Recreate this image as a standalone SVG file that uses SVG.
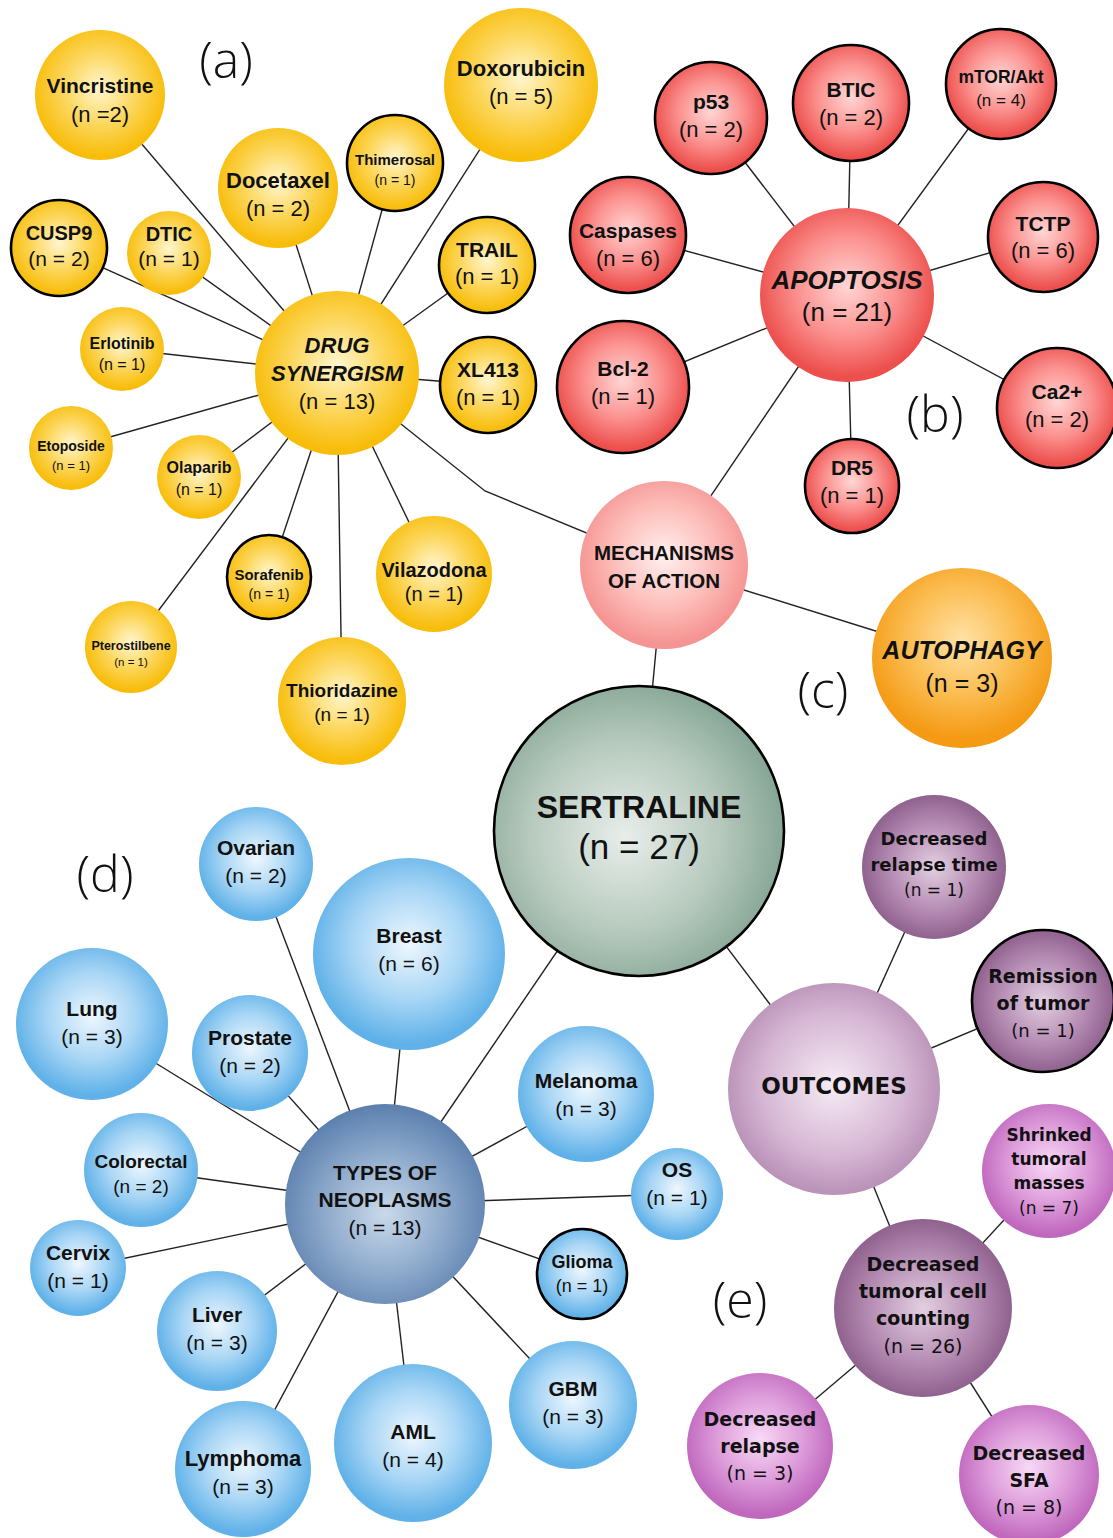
<svg xmlns="http://www.w3.org/2000/svg" width="1113" height="1538" viewBox="0 0 1113 1538">
<style>
.bg{fill:#fff}
.ln{stroke:#222;stroke-width:1.4;fill:none}
.bd{stroke:#000;stroke-width:2.6}
text{font-family:"Liberation Sans",Arial,sans-serif;text-anchor:middle;fill:#111}
.b{font-weight:bold}
.i{font-style:italic;font-weight:bold}
.p{font-family:"DejaVu Sans",Verdana,sans-serif}
.lab{font-family:"Open Sans","Liberation Sans",sans-serif;font-weight:300;font-size:50px;fill:#111}
</style>
<defs>
<radialGradient id="gY" cx="50%" cy="45%" r="52%"><stop offset="0" stop-color="#fff6cf"/><stop offset="0.55" stop-color="#fcd65a"/><stop offset="1" stop-color="#f8bd0a"/></radialGradient>
<radialGradient id="gR" cx="50%" cy="45%" r="52%"><stop offset="0" stop-color="#ffd6d4"/><stop offset="0.55" stop-color="#fb9290"/><stop offset="1" stop-color="#ec4f4c"/></radialGradient>
<radialGradient id="gRl" cx="50%" cy="45%" r="52%"><stop offset="0" stop-color="#fff0ef"/><stop offset="0.6" stop-color="#fcbcb8"/><stop offset="1" stop-color="#f59492"/></radialGradient>
<radialGradient id="gO" cx="50%" cy="40%" r="55%"><stop offset="0" stop-color="#ffe2a6"/><stop offset="0.55" stop-color="#fbbd52"/><stop offset="1" stop-color="#f49a14"/></radialGradient>
<radialGradient id="gS" cx="45%" cy="52%" r="55%"><stop offset="0" stop-color="#e8eeea"/><stop offset="0.6" stop-color="#b6c9bd"/><stop offset="1" stop-color="#86a696"/></radialGradient>
<radialGradient id="gB" cx="50%" cy="45%" r="52%"><stop offset="0" stop-color="#eef7fe"/><stop offset="0.55" stop-color="#a9d6f5"/><stop offset="1" stop-color="#5fb1e8"/></radialGradient>
<radialGradient id="gBd" cx="50%" cy="55%" r="55%"><stop offset="0" stop-color="#c9d9ea"/><stop offset="0.55" stop-color="#8eaacb"/><stop offset="1" stop-color="#5b7fae"/></radialGradient>
<radialGradient id="gP" cx="50%" cy="50%" r="52%"><stop offset="0" stop-color="#e2cfe1"/><stop offset="0.55" stop-color="#b890b6"/><stop offset="1" stop-color="#8c5d8b"/></radialGradient>
<radialGradient id="gPl" cx="50%" cy="48%" r="55%"><stop offset="0" stop-color="#f6ecf5"/><stop offset="0.6" stop-color="#d6b8d4"/><stop offset="1" stop-color="#b58ab3"/></radialGradient>
<radialGradient id="gM" cx="50%" cy="45%" r="52%"><stop offset="0" stop-color="#f8d9f6"/><stop offset="0.55" stop-color="#de9edb"/><stop offset="1" stop-color="#c068be"/></radialGradient>
</defs>
<rect class="bg" x="0" y="0" width="1113" height="1538"/>

<g id="connectors">
<line class="ln" x1="337" y1="373" x2="100" y2="95"/>
<line class="ln" x1="337" y1="373" x2="521" y2="85"/>
<line class="ln" x1="337" y1="373" x2="278" y2="188"/>
<line class="ln" x1="337" y1="373" x2="395" y2="163"/>
<line class="ln" x1="337" y1="373" x2="59" y2="248"/>
<line class="ln" x1="337" y1="373" x2="169" y2="253"/>
<line class="ln" x1="337" y1="373" x2="487" y2="265"/>
<line class="ln" x1="337" y1="373" x2="122" y2="349"/>
<line class="ln" x1="337" y1="373" x2="488" y2="385"/>
<line class="ln" x1="337" y1="373" x2="71" y2="448"/>
<line class="ln" x1="337" y1="373" x2="199" y2="477"/>
<line class="ln" x1="337" y1="373" x2="269" y2="577"/>
<line class="ln" x1="337" y1="373" x2="434" y2="574"/>
<line class="ln" x1="337" y1="373" x2="131" y2="647"/>
<line class="ln" x1="337" y1="373" x2="342" y2="701"/>
<polyline class="ln" points="337,373 485,491 664,565"/>
<line class="ln" x1="847" y1="295" x2="711" y2="118"/>
<line class="ln" x1="847" y1="295" x2="851" y2="103"/>
<line class="ln" x1="847" y1="295" x2="1001" y2="84"/>
<line class="ln" x1="847" y1="295" x2="628" y2="235"/>
<line class="ln" x1="847" y1="295" x2="1043" y2="237"/>
<line class="ln" x1="847" y1="295" x2="623" y2="387"/>
<line class="ln" x1="847" y1="295" x2="1057" y2="408"/>
<line class="ln" x1="847" y1="295" x2="852" y2="486"/>
<line class="ln" x1="847" y1="295" x2="664" y2="565"/>
<line class="ln" x1="664" y1="565" x2="962" y2="658"/>
<line class="ln" x1="664" y1="565" x2="639" y2="831"/>
<line class="ln" x1="639" y1="831" x2="385" y2="1204"/>
<line class="ln" x1="639" y1="831" x2="834" y2="1089"/>
<line class="ln" x1="385" y1="1204" x2="256" y2="864"/>
<line class="ln" x1="385" y1="1204" x2="409" y2="954"/>
<line class="ln" x1="385" y1="1204" x2="92" y2="1024"/>
<line class="ln" x1="385" y1="1204" x2="250" y2="1053"/>
<line class="ln" x1="385" y1="1204" x2="586" y2="1094"/>
<line class="ln" x1="385" y1="1204" x2="141" y2="1170"/>
<line class="ln" x1="385" y1="1204" x2="677" y2="1194"/>
<line class="ln" x1="385" y1="1204" x2="78" y2="1268"/>
<line class="ln" x1="385" y1="1204" x2="582" y2="1274"/>
<line class="ln" x1="385" y1="1204" x2="217" y2="1331"/>
<line class="ln" x1="385" y1="1204" x2="573" y2="1405"/>
<line class="ln" x1="385" y1="1204" x2="413" y2="1443"/>
<line class="ln" x1="385" y1="1204" x2="243" y2="1469"/>
<line class="ln" x1="834" y1="1089" x2="934" y2="867"/>
<line class="ln" x1="834" y1="1089" x2="1043" y2="1001"/>
<line class="ln" x1="834" y1="1089" x2="923" y2="1308"/>
<line class="ln" x1="923" y1="1308" x2="1049" y2="1171"/>
<line class="ln" x1="923" y1="1308" x2="760" y2="1446"/>
<line class="ln" x1="923" y1="1308" x2="1029" y2="1475"/>
</g>

<text class="lab" x="226" y="78">(a)</text>
<text class="lab" x="935" y="432">(b)</text>
<text class="lab" x="823" y="708">(c)</text>
<text class="lab" x="105" y="892">(d)</text>
<text class="lab" x="740" y="1318">(e)</text>

<!-- (a) drug synergism -->
<g id="vincristine"><circle cx="100" cy="95" r="65" fill="url(#gY)"/><text class="b" x="100" y="93" font-size="21">Vincristine</text><text x="100" y="122" font-size="22">(n =2)</text></g>
<g id="doxorubicin"><circle cx="521" cy="85" r="77" fill="url(#gY)"/><text class="b" x="521" y="76" font-size="22">Doxorubicin</text><text x="521" y="104" font-size="22">(n = 5)</text></g>
<g id="docetaxel"><circle cx="278" cy="188" r="60" fill="url(#gY)"/><text class="b" x="278" y="188" font-size="22">Docetaxel</text><text x="278" y="216" font-size="22">(n = 2)</text></g>
<g id="thimerosal"><circle class="bd" cx="395" cy="163" r="48" fill="url(#gY)"/><text class="b" x="395" y="165" font-size="15">Thimerosal</text><text x="395" y="185" font-size="14">(n = 1)</text></g>
<g id="cusp9"><circle class="bd" cx="59" cy="248" r="48" fill="url(#gY)"/><text class="b" x="59" y="240" font-size="20">CUSP9</text><text x="59" y="266" font-size="21">(n = 2)</text></g>
<g id="dtic"><circle cx="169" cy="253" r="42" fill="url(#gY)"/><text class="b" x="169" y="241" font-size="20">DTIC</text><text x="169" y="266" font-size="21">(n = 1)</text></g>
<g id="trail"><circle class="bd" cx="487" cy="265" r="48" fill="url(#gY)"/><text class="b" x="487" y="257" font-size="21">TRAIL</text><text x="487" y="284" font-size="22">(n = 1)</text></g>
<g id="erlotinib"><circle cx="122" cy="349" r="42" fill="url(#gY)"/><text class="b" x="122" y="349" font-size="16">Erlotinib</text><text x="122" y="370" font-size="16">(n = 1)</text></g>
<g id="drug-synergism"><circle cx="337" cy="373" r="82" fill="url(#gY)"/><text class="i" x="337" y="353" font-size="22">DRUG</text><text class="i" x="337" y="381" font-size="22">SYNERGISM</text><text x="337" y="409" font-size="22">(n = 13)</text></g>
<g id="xl413"><circle class="bd" cx="488" cy="385" r="48" fill="url(#gY)"/><text class="b" x="488" y="377" font-size="21">XL413</text><text x="488" y="405" font-size="22">(n = 1)</text></g>
<g id="etoposide"><circle cx="71" cy="448" r="42" fill="url(#gY)"/><text class="b" x="71" y="451" font-size="14">Etoposide</text><text x="71" y="470" font-size="13">(n = 1)</text></g>
<g id="olaparib"><circle cx="199" cy="477" r="42" fill="url(#gY)"/><text class="b" x="199" y="473" font-size="16">Olaparib</text><text x="199" y="495" font-size="16">(n = 1)</text></g>
<g id="sorafenib"><circle class="bd" cx="269" cy="577" r="42" fill="url(#gY)"/><text class="b" x="269" y="580" font-size="15">Sorafenib</text><text x="269" y="599" font-size="14">(n = 1)</text></g>
<g id="vilazodona"><circle cx="434" cy="574" r="58" fill="url(#gY)"/><text class="b" x="434" y="577" font-size="20">Vilazodona</text><text x="434" y="601" font-size="20">(n = 1)</text></g>
<g id="pterostilbene"><circle cx="131" cy="647" r="46" fill="url(#gY)"/><text class="b" x="131" y="650" font-size="12.5">Pterostilbene</text><text x="131" y="666" font-size="11.5">(n = 1)</text></g>
<g id="thioridazine"><circle cx="342" cy="701" r="64" fill="url(#gY)"/><text class="b" x="342" y="697" font-size="19">Thioridazine</text><text x="342" y="721" font-size="19">(n = 1)</text></g>

<!-- (b) apoptosis -->
<g id="p53"><circle class="bd" cx="711" cy="118" r="56" fill="url(#gR)"/><text class="b" x="711" y="109" font-size="21">p53</text><text x="711" y="137" font-size="22">(n = 2)</text></g>
<g id="btic"><circle class="bd" cx="851" cy="103" r="58" fill="url(#gR)"/><text class="b" x="851" y="97" font-size="21">BTIC</text><text x="851" y="125" font-size="22">(n = 2)</text></g>
<g id="mtor-akt"><circle class="bd" cx="1001" cy="84" r="55" fill="url(#gR)"/><text class="b" x="1001" y="83" font-size="17.5">mTOR/Akt</text><text x="1001" y="106" font-size="17">(n = 4)</text></g>
<g id="caspases"><circle class="bd" cx="628" cy="235" r="58" fill="url(#gR)"/><text class="b" x="628" y="238" font-size="21">Caspases</text><text x="628" y="266" font-size="22">(n = 6)</text></g>
<g id="apoptosis"><circle cx="847" cy="295" r="87" fill="url(#gR)"/><text class="i" x="847" y="289" font-size="26">APOPTOSIS</text><text x="847" y="321" font-size="26">(n = 21)</text></g>
<g id="tctp"><circle class="bd" cx="1043" cy="237" r="55" fill="url(#gR)"/><text class="b" x="1043" y="231" font-size="21">TCTP</text><text x="1043" y="258" font-size="22">(n = 6)</text></g>
<g id="bcl-2"><circle class="bd" cx="623" cy="387" r="66" fill="url(#gR)"/><text class="b" x="623" y="376" font-size="21">Bcl-2</text><text x="623" y="404" font-size="22">(n = 1)</text></g>
<g id="ca2"><circle class="bd" cx="1057" cy="408" r="60" fill="url(#gR)"/><text class="b" x="1057" y="399" font-size="21">Ca2+</text><text x="1057" y="427" font-size="22">(n = 2)</text></g>
<g id="dr5"><circle class="bd" cx="852" cy="486" r="47" fill="url(#gR)"/><text class="b" x="852" y="475" font-size="21">DR5</text><text x="852" y="503" font-size="22">(n = 1)</text></g>

<!-- (c) -->
<g id="mechanisms"><circle cx="664" cy="565" r="84" fill="url(#gRl)"/><text class="b" x="664" y="560" font-size="20.5">MECHANISMS</text><text class="b" x="664" y="588" font-size="20.5">OF ACTION</text></g>
<g id="autophagy"><circle cx="962" cy="658" r="90" fill="url(#gO)"/><text class="i" x="962" y="659" font-size="25">AUTOPHAGY</text><text x="962" y="692" font-size="25">(n = 3)</text></g>

<g id="sertraline"><circle cx="639" cy="831" r="145" fill="url(#gS)" stroke="#000" stroke-width="2.6"/><text class="b" x="639" y="818" font-size="32">SERTRALINE</text><text x="639" y="859" font-size="35">(n = 27)</text></g>

<!-- (d) neoplasms -->
<g id="ovarian"><circle cx="256" cy="864" r="57" fill="url(#gB)"/><text class="b" x="256" y="855" font-size="21">Ovarian</text><text x="256" y="883" font-size="21">(n = 2)</text></g>
<g id="breast"><circle cx="409" cy="954" r="96" fill="url(#gB)"/><text class="b" x="409" y="943" font-size="21">Breast</text><text x="409" y="971" font-size="21">(n = 6)</text></g>
<g id="lung"><circle cx="92" cy="1024" r="76" fill="url(#gB)"/><text class="b" x="92" y="1016" font-size="21">Lung</text><text x="92" y="1044" font-size="21">(n = 3)</text></g>
<g id="prostate"><circle cx="250" cy="1053" r="58" fill="url(#gB)"/><text class="b" x="250" y="1045" font-size="21">Prostate</text><text x="250" y="1073" font-size="21">(n = 2)</text></g>
<g id="melanoma"><circle cx="586" cy="1094" r="68" fill="url(#gB)"/><text class="b" x="586" y="1088" font-size="21">Melanoma</text><text x="586" y="1116" font-size="21">(n = 3)</text></g>
<g id="colorectal"><circle cx="141" cy="1170" r="57" fill="url(#gB)"/><text class="b" x="141" y="1168" font-size="19">Colorectal</text><text x="141" y="1193" font-size="19">(n = 2)</text></g>
<g id="types-of-neoplasms"><circle cx="385" cy="1204" r="100" fill="url(#gBd)"/><text class="b" x="385" y="1180" font-size="21">TYPES OF</text><text class="b" x="385" y="1207" font-size="21">NEOPLASMS</text><text x="385" y="1235" font-size="21">(n = 13)</text></g>
<g id="os"><circle cx="677" cy="1194" r="46" fill="url(#gB)"/><text class="b" x="677" y="1177" font-size="21">OS</text><text x="677" y="1205" font-size="21">(n = 1)</text></g>
<g id="cervix"><circle cx="78" cy="1268" r="48" fill="url(#gB)"/><text class="b" x="78" y="1260" font-size="21">Cervix</text><text x="78" y="1288" font-size="21">(n = 1)</text></g>
<g id="glioma"><circle class="bd" cx="582" cy="1274" r="45" fill="url(#gB)"/><text class="b" x="582" y="1268" font-size="18">Glioma</text><text x="582" y="1292" font-size="18">(n = 1)</text></g>
<g id="liver"><circle cx="217" cy="1331" r="60" fill="url(#gB)"/><text class="b" x="217" y="1322" font-size="21">Liver</text><text x="217" y="1350" font-size="21">(n = 3)</text></g>
<g id="gbm"><circle cx="573" cy="1405" r="64" fill="url(#gB)"/><text class="b" x="573" y="1396" font-size="21">GBM</text><text x="573" y="1424" font-size="21">(n = 3)</text></g>
<g id="aml"><circle cx="413" cy="1443" r="79" fill="url(#gB)"/><text class="b" x="413" y="1439" font-size="21">AML</text><text x="413" y="1467" font-size="21">(n = 4)</text></g>
<g id="lymphoma"><circle cx="243" cy="1469" r="68" fill="url(#gB)"/><text class="b" x="243" y="1466" font-size="22">Lymphoma</text><text x="243" y="1494" font-size="21">(n = 3)</text></g>

<!-- (e) outcomes -->
<g id="decreased-relapse-time"><circle cx="934" cy="867" r="72" fill="url(#gP)"/><text class="p b" x="934" y="845" font-size="18">Decreased</text><text class="p b" x="934" y="871" font-size="18">relapse time</text><text class="p" x="934" y="896" font-size="17">(n = 1)</text></g>
<g id="remission"><circle class="bd" cx="1043" cy="1001" r="71" fill="url(#gP)"/><text class="p b" x="1043" y="983" font-size="19">Remission</text><text class="p b" x="1043" y="1010" font-size="19">of tumor</text><text class="p" x="1043" y="1037" font-size="18">(n = 1)</text></g>
<g id="outcomes"><circle cx="834" cy="1089" r="106" fill="url(#gPl)"/><text class="p b" x="834" y="1094" font-size="23">OUTCOMES</text></g>
<g id="shrinked"><circle cx="1049" cy="1171" r="67" fill="url(#gM)"/><text class="p b" x="1049" y="1141" font-size="17">Shrinked</text><text class="p b" x="1049" y="1165" font-size="17">tumoral</text><text class="p b" x="1049" y="1189" font-size="17">masses</text><text class="p" x="1049" y="1214" font-size="17">(n = 7)</text></g>
<g id="decreased-tumoral-cell-counting"><circle cx="923" cy="1308" r="89" fill="url(#gP)"/><text class="p b" x="923" y="1271" font-size="19">Decreased</text><text class="p b" x="923" y="1298" font-size="19">tumoral cell</text><text class="p b" x="923" y="1325" font-size="19">counting</text><text class="p" x="923" y="1353" font-size="19">(n = 26)</text></g>
<g id="decreased-relapse"><circle cx="760" cy="1446" r="73" fill="url(#gM)"/><text class="p b" x="760" y="1426" font-size="19">Decreased</text><text class="p b" x="760" y="1453" font-size="19">relapse</text><text class="p" x="760" y="1480" font-size="19">(n = 3)</text></g>
<g id="decreased-sfa"><circle cx="1029" cy="1475" r="70" fill="url(#gM)"/><text class="p b" x="1029" y="1460" font-size="19">Decreased</text><text class="p b" x="1029" y="1487" font-size="19">SFA</text><text class="p" x="1029" y="1514" font-size="19">(n = 8)</text></g>
</svg>
